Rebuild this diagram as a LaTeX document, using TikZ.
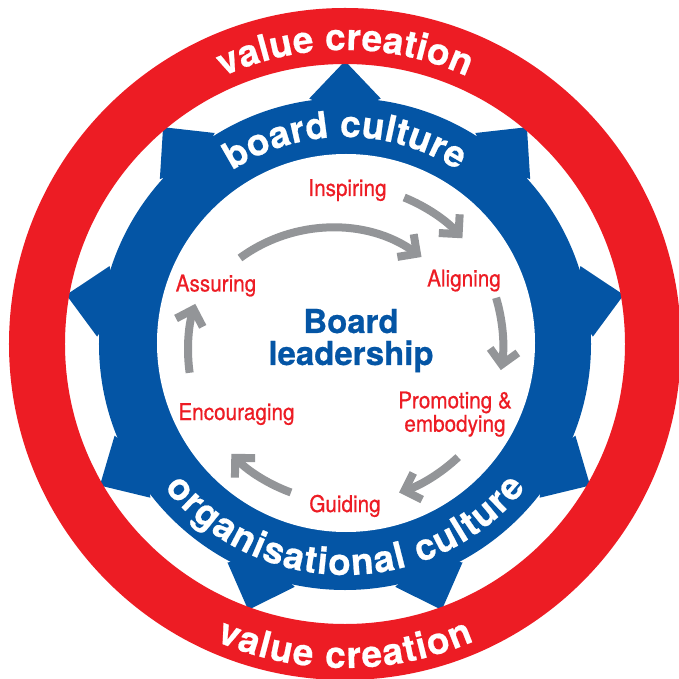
\documentclass[tikz,border=0pt]{standalone}
\usepackage{fontspec}
\usetikzlibrary{decorations.text,arrows.meta}
\newfontfamily\heros[FakeBold=0.6]{TeX Gyre Heros}
\newfontfamily\heroscond[FakeStretch=0.9,FakeBold=0.6]{TeX Gyre Heros}
\definecolor{ringred}{RGB}{237,28,36}
\definecolor{gearblue}{RGB}{4,85,165}
\definecolor{cyclegrey}{RGB}{147,149,152}
\newcommand{\bandfont}{\heros\bfseries\fontsize{37pt}{37pt}\selectfont}
\newcommand{\stagefont}{\heroscond\fontsize{23pt}{23.4pt}\selectfont}
\newcommand{\corefont}{\heros\bfseries\fontsize{33pt}{32pt}\selectfont}

\begin{document}
\begin{tikzpicture}[x=1pt, y=1pt,
    band/.style = {decorate, decoration={text along path, text align=fit to path, text color=white, text={|\bandfont|#1}}},
    stage/.style = {text=ringred, font=\stagefont, anchor=base, align=center, inner sep=0pt},
    turn/.style = {draw=cyclegrey, line width=8pt, -{Straight Barb[length=14pt,width=28pt]}, looseness=0.86}]
    \useasboundingbox[fill=white] (-345,-335) rectangle (333,344);

    \fill[gearblue] (0,0) circle[radius=246pt];
    \foreach \a in {10,50,...,330}
        \fill[gearblue] ({\a-8.3}:248) -- (\a:283) -- ({\a+8.3}:248) -- (\a:230) -- cycle;
    \fill[ringred, even odd rule] (0,0) circle[radius=336pt] circle[radius=280pt];
    \fill[white] (1,1) circle[radius=189pt];

    \path[band=value creation] (114.5:294) arc[start angle=114.5, end angle=65.5, radius=294pt];
    \path[band=value creation] (246.5:324) arc[start angle=246.5, end angle=293.5, radius=324pt];
    \path[band=board culture] (123:207) arc[start angle=123, end angle=57, radius=207pt];
    \path[band=organisational culture] (218.5:231) arc[start angle=218.5, end angle=321.5, radius=231pt];

    \node[stage] (inspiring)   at (2.5,148)    {Inspiring};
    \node[stage] (aligning)    at (119,57.5)   {Aligning};
    \node[stage] (promoting)   at (110,-87.7)  {Promoting \&\\embodying};
    \node[stage] (guiding)     at (0,-168)     {Guiding};
    \node[stage] (encouraging) at (-108.5,-76) {Encouraging};
    \node[stage] (assuring)    at (-129,52.5)  {Assuring};
    \node[text=gearblue, font=\corefont, align=center, anchor=base, inner sep=0pt] (core) at (6,-21) {Board\\leadership};

    \coordinate (t1) at (68:158);    \coordinate (h1) at (42:158);
    \coordinate (t2) at (17:158);    \coordinate (h2) at (-9.5:158);
    \coordinate (t3) at (-45:160);   \coordinate (h3) at (-70:158);
    \coordinate (t4) at (250:158);   \coordinate (h4) at (224:158);
    \coordinate (t5) at (190.5:158); \coordinate (h5) at (165:155);
    \coordinate (t6) at (-105,86);   \coordinate (h6) at (76.5,87);

    \draw[turn] (t1) to[bend left=13] (h1);
    \draw[turn] (t2) to[bend left=13] (h2);
    \draw[turn] (t3) to[bend left=12.5] (h3);
    \draw[turn] (t4) to[bend left=13] (h4);
    \draw[turn] (t5) to[bend left=12.75] (h5);
    \draw[turn, looseness=0.94] (t6) to[bend left=36] (h6);
\end{tikzpicture}
\end{document}
